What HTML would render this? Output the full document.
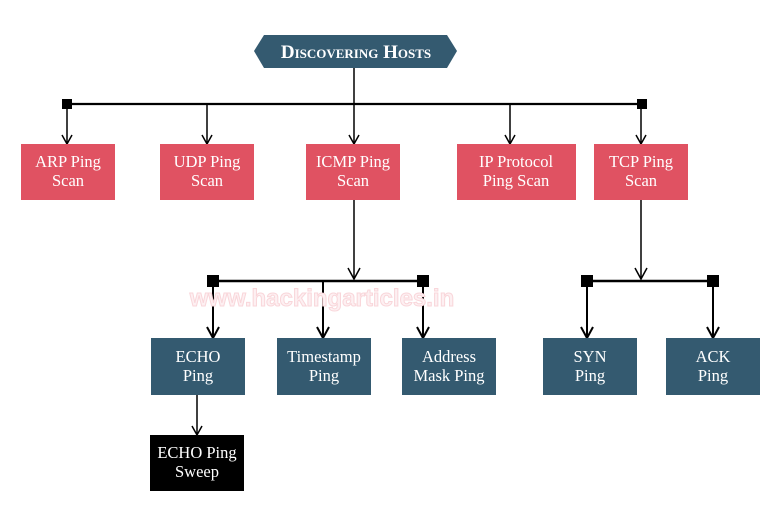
<!DOCTYPE html>
<html><head><style>
body{margin:0;background:#fff;width:765px;height:500px;overflow:hidden}
svg text{font-family:"Liberation Serif",serif;fill:#fff;font-size:16.5px;text-anchor:middle}
</style></head><body>
<svg width="765" height="500" viewBox="0 0 765 500">
<g stroke="#000" stroke-width="2.2" fill="none">
<line x1="354" y1="68" x2="354" y2="104" stroke-width="1.5"/>
<line x1="67" y1="104" x2="642" y2="104"/>
</g>
<g stroke="#000" stroke-width="1.5" fill="none">
<line x1="67" y1="104" x2="67" y2="144"/><path d="M62,135 L67,144 L72,135"/>
<line x1="207" y1="104" x2="207" y2="144"/><path d="M202,135 L207,144 L212,135"/>
<line x1="354" y1="104" x2="354" y2="144"/><path d="M349,135 L354,144 L359,135"/>
<line x1="510" y1="104" x2="510" y2="144"/><path d="M505,135 L510,144 L515,135"/>
<line x1="641" y1="104" x2="641" y2="144"/><path d="M636,135 L641,144 L646,135"/>
<line x1="354" y1="200" x2="354" y2="279"/><path d="M348,268 L354,279 L360,268"/>
<line x1="641" y1="200" x2="641" y2="279"/><path d="M635,268 L641,279 L647,268"/>
<line x1="197" y1="395" x2="197" y2="435"/><path d="M192,426 L197,435 L202,426"/>
</g>
<g stroke="#000" stroke-width="2" fill="none">
<line x1="213" y1="281" x2="213" y2="338"/><path d="M207,327 L213,338 L219,327"/>
<line x1="323" y1="281" x2="323" y2="338"/><path d="M317,327 L323,338 L329,327"/>
<line x1="423" y1="281" x2="423" y2="338"/><path d="M417,327 L423,338 L429,327"/>
<line x1="587" y1="281" x2="587" y2="338"/><path d="M581,327 L587,338 L593,327"/>
<line x1="713" y1="281" x2="713" y2="338"/><path d="M707,327 L713,338 L719,327"/>
</g>
<g stroke="#000" stroke-width="2.5"><line x1="213" y1="281" x2="423" y2="281"/><line x1="587" y1="281" x2="713" y2="281"/></g>
<g fill="#000"><rect x="62" y="99" width="10" height="10"/><rect x="637" y="99" width="10" height="10"/>
<rect x="207" y="275" width="12" height="12"/><rect x="417" y="275" width="12" height="12"/>
<rect x="581" y="275" width="12" height="12"/><rect x="707" y="275" width="12" height="12"/></g>
<text x="322" y="306" style="fill:#fdf0f2;stroke:#f9d6da;stroke-width:1;font-size:24px;font-weight:bold;font-family:'Liberation Sans',sans-serif">www.hackingarticles.in</text>
<polygon points="254,51 264,35 447,35 457,51 447,68 264,68" fill="#345a70"/>
<text x="356" y="58" style="font-size:19px;font-weight:bold;font-variant:small-caps">Discovering Hosts</text>
<g fill="#e05262">
<rect x="21" y="144" width="94" height="56"/><rect x="160" y="144" width="94" height="56"/><rect x="306" y="144" width="94" height="56"/><rect x="457" y="144" width="119" height="56"/><rect x="594" y="144" width="94" height="56"/></g>
<g fill="#345a70">
<rect x="151" y="338" width="94" height="57"/><rect x="277" y="338" width="94" height="57"/><rect x="402" y="338" width="94" height="57"/><rect x="543" y="338" width="94" height="57"/><rect x="666" y="338" width="94" height="57"/></g>
<rect x="150" y="435" width="94" height="56" fill="#000"/>
<text x="68" y="167">ARP Ping</text><text x="68" y="186">Scan</text>
<text x="207" y="167">UDP Ping</text><text x="207" y="186">Scan</text>
<text x="353" y="167">ICMP Ping</text><text x="353" y="186">Scan</text>
<text x="516" y="167">IP Protocol</text><text x="516" y="186">Ping Scan</text>
<text x="641" y="167">TCP Ping</text><text x="641" y="186">Scan</text>
<text x="198" y="362">ECHO</text><text x="198" y="381">Ping</text>
<text x="324" y="362">Timestamp</text><text x="324" y="381">Ping</text>
<text x="449" y="362">Address</text><text x="449" y="381">Mask Ping</text>
<text x="590" y="362">SYN</text><text x="590" y="381">Ping</text>
<text x="713" y="362">ACK</text><text x="713" y="381">Ping</text>
<text x="197" y="458">ECHO Ping</text><text x="197" y="477">Sweep</text>
</svg>
</body></html>
